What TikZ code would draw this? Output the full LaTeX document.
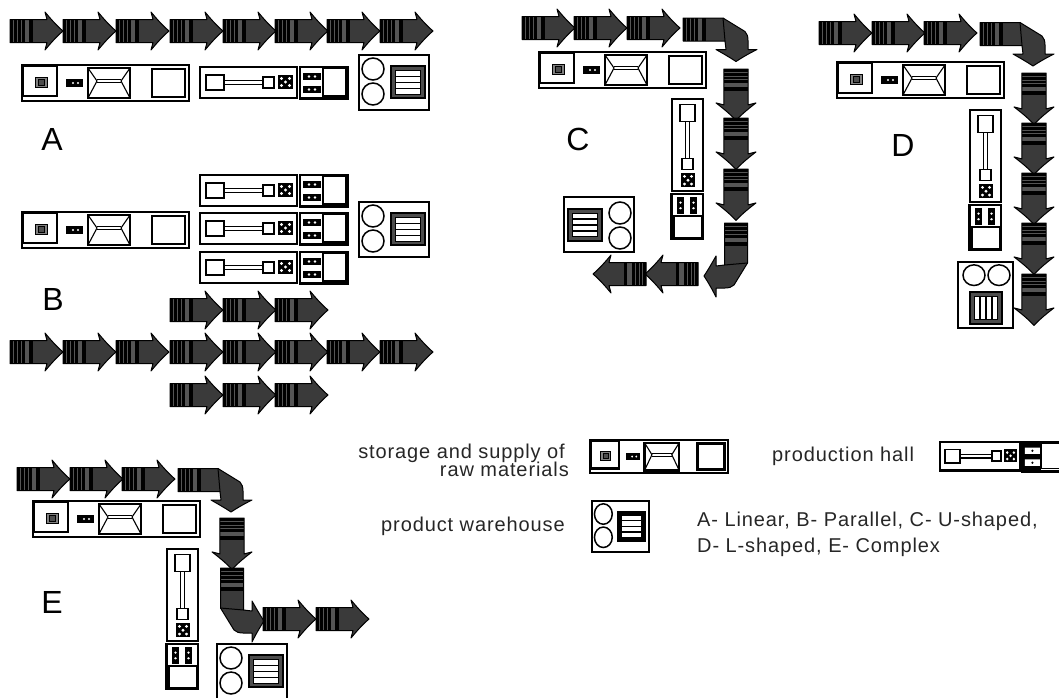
\documentclass[tikz,border=0pt]{standalone}
\usepackage{fontspec}
\setmainfont{Liberation Sans}
\newfontfamily\legendfont[LetterSpace=4.5]{Liberation Sans}
\definecolor{flowgrey}{HTML}{3A3A3A}
\definecolor{bandgrey}{HTML}{555555}
\newcommand{\flowstripes}{%
  \fill[black] (0,-11.5) rectangle (14.5,11.5);
  \fill[bandgrey] (14.5,-11.5) rectangle (19,11.5);
  \fill[black] (19,-11.5) rectangle (22.5,11.5);
  \foreach \sx in {3.5,7,11} \draw[bandgrey,line width=.4pt] (\sx,-11.5) -- (\sx,11.5);
}
\tikzset{
  flowline/.style={draw=black,line width=1pt,line join=round},
  frame/.style={draw=black,line width=1.5pt,fill=white},
  thinframe/.style={draw=black,line width=1.1pt,fill=white},
  rackbox/.style={draw=black,line width=1.2pt,fill=black!70},
  biglabel/.style={font=\fontsize{32}{36}\selectfont,anchor=base,inner sep=0pt},
  legendleft/.style={font=\legendfont\fontsize{20}{22}\selectfont,anchor=base east,inner sep=0pt,text=black!85},
  legendright/.style={font=\legendfont\fontsize{20}{22}\selectfont,anchor=base west,inner sep=0pt,text=black!85},
  flowarrow/.pic={
    \fill[flowgrey] (0,-11.5) -- (37,-11.5) -- (35,-19) .. controls (40,-13) and (46,-6) .. (53,0)
      .. controls (46,6) and (40,13) .. (35,19) -- (37,11.5) -- (0,11.5) -- cycle;
    \flowstripes
    \path[flowline] (0,-11.5) -- (37,-11.5) -- (35,-19) .. controls (40,-13) and (46,-6) .. (53,0)
      .. controls (46,6) and (40,13) .. (35,19) -- (37,11.5) -- (0,11.5) -- cycle;
  },
  bentarrow/.pic={
    \fill[flowgrey] (0,-11.5) -- (40,-11.5) -- (62,2) .. controls (64,4) and (65,7) .. (65,11) -- (65,20) -- (74,20)
      .. controls (66,24) and (59,28) .. (53,32) .. controls (47,28) and (40,24) .. (33,20) -- (43,20) -- (42,11.5) -- (0,11.5) -- cycle;
    \flowstripes
    \path[flowline] (0,-11.5) -- (40,-11.5) -- (62,2) .. controls (64,4) and (65,7) .. (65,11) -- (65,20) -- (74,20)
      .. controls (66,24) and (59,28) .. (53,32) .. controls (47,28) and (40,24) .. (33,20) -- (43,20) -- (42,11.5) -- (0,11.5) -- cycle;
    \draw[flowline] (40,-11.5) -- (42,11.5);
  },
  storage/.pic={
    \path[frame] (0,0) rectangle (167,36);
    \path[frame] (1,1) rectangle (35,31);
    \path[draw=black,line width=.9pt,fill=gray] (13,12) rectangle (25,22);
    \path[draw=black,line width=.6pt,fill=black!70] (16,14.5) rectangle (22,20);
    \fill[black] (44,14) rectangle (61,22);
    \fill[white] (51,18) circle (1.2) (56,18) circle (1.2);
    \path[frame] (66,3) rectangle (108,33);
    \draw[black,line width=1.1pt] (66,3) -- (75,16) -- (66,33) (108,3) -- (99,16) -- (108,33);
    \draw[black,line width=.9pt] (75,14.5) -- (99,14.5) (75,17.5) -- (99,17.5);
    \path[frame] (130,4) rectangle (163,32);
  },
  hallbody/.pic={
    \path[frame] (0,0) rectangle (97,31);
    \path[thinframe] (6,8) rectangle (24,23);
    \path[thinframe] (24,13.5) rectangle (63,17.5);
    \path[thinframe] (63,10) rectangle (74,21);
    \fill[black] (78,8) rectangle (93,22);
    \fill[white] (81.5,11.5) circle (1.6) (89.5,11.5) circle (1.6) (85.5,15) circle (1.6)
      (81.5,18.5) circle (1.6) (89.5,18.5) circle (1.6);
    \path[frame] (100,0) rectangle (148,32);
    \path[draw=black,line width=1.6pt,fill=white] (123,1) rectangle (146,29);
    \draw[black,line width=1.8pt] (100,31) -- (147,31) -- (147,1);
    \foreach \ry in {6,19} {
      \fill[black] (103,\ry) rectangle (121,\ry+7);
      \fill[white] (109,\ry+3.5) circle (1.3) (115,\ry+3.5) circle (1.3);
    }
  },
  warehouse/.pic={
    \path[frame] (0,0) rectangle (70,55);
    \draw[black,line width=1.5pt] (14,14) circle (11) (14,39) circle (11);
    \path[rackbox] (32,11) rectangle (66,43);
    \fill[black] (36,15) rectangle (62,39.5);
    \foreach \ry in {16,22,28,34} \fill[white] (37,\ry) rectangle (61,\ry+4.5);
  }
}
\begin{document}
\begin{tikzpicture}[x=1pt,y=-1pt]
\useasboundingbox (0,0) rectangle (1059,697);
% --- A
\foreach \ax [count=\ai] in {10,63,116,170,223,275,327,380}
  \pic (aarrow\ai) at (\ax,31) {flowarrow};
\pic (astore) at (22,65) {storage};
\pic (ahall) at (200,67) {hallbody};
\pic (aware) at (359,55) {warehouse};
\node[biglabel] (la) at (52,150) {A};
% --- B
\pic (bstore) at (22,212) {storage};
\pic (bhalla) at (200,175) {hallbody};
\pic (bhallb) at (200,213) {hallbody};
\pic (bhallc) at (200,252) {hallbody};
\pic (bware) at (359,202) {warehouse};
\node[biglabel] (lb) at (53,310) {B};
\foreach \ax [count=\ai] in {170,223,275} {
  \pic (btop\ai) at (\ax,310) {flowarrow};
  \pic (bbot\ai) at (\ax,395) {flowarrow};
}
\foreach \ax [count=\ai] in {10,63,116,170,223,275,327,380}
  \pic (bmid\ai) at (\ax,352) {flowarrow};
% --- C
\foreach \ax [count=\ai] in {522,574,627}
  \pic (carrow\ai) at (\ax,28) {flowarrow};
\pic (cbend) at (683,29.5) {bentarrow};
\foreach \ay [count=\ai] in {69,118,169}
  \pic[rotate=-90,xscale=.97,yscale=1.05] (cdown\ai) at (736,\ay) {flowarrow};
\pic[rotate=-90] (cbendb) at (736,223) {bentarrow};
\pic[rotate=180] (cwesta) at (698,274) {flowarrow};
\pic[rotate=180] (cwestb) at (646,274) {flowarrow};
\pic (cstore) at (539,52) {storage};
\pic[rotate=-90,xscale=.95] (chall) at (703,99) {hallbody};
\pic[rotate=180] (cware) at (634,252) {warehouse};
\node[biglabel] (lc) at (578,150) {C};
% --- D
\foreach \ax [count=\ai] in {819,872,924}
  \pic (darrow\ai) at (\ax,33) {flowarrow};
\pic (dbend) at (980,34) {bentarrow};
\foreach \ay [count=\ai] in {73,123,173,223,274}
  \pic[rotate=-90,xscale=.97,yscale=1.05] (ddown\ai) at (1034,\ay) {flowarrow};
\pic (dstore) at (837,62) {storage};
\pic[rotate=-90,xscale=.95] (dhall) at (1001,110) {hallbody};
\pic[rotate=-90,xscale=.94] (dware) at (1013,262) {warehouse};
\node[biglabel] (ld) at (903,156) {D};
% --- E
\foreach \ax [count=\ai] in {17,70,122}
  \pic (earrow\ai) at (\ax,479) {flowarrow};
\pic (ebend) at (178,480) {bentarrow};
\pic[rotate=-90,xscale=.97,yscale=1.05] (edown) at (232,518) {flowarrow};
\pic[rotate=-90,yscale=-1] (ebendb) at (232,568) {bentarrow};
\pic (eeasta) at (263,619) {flowarrow};
\pic (eeastb) at (316,619) {flowarrow};
\pic (estore) at (33,501) {storage};
\pic[rotate=-90,xscale=.95] (ehall) at (198,549) {hallbody};
\pic (eware) at (217,644) {warehouse};
\node[biglabel] (le) at (52,613) {E};
% --- legend
\tikzset{frame/.style={draw=black,line width=2.4pt,fill=white},
         thinframe/.style={draw=black,line width=1.7pt,fill=white},
         rackbox/.style={draw=black,line width=1.2pt,fill=black}}
\pic[xscale=.826,yscale=.92] (lstore) at (590,440) {storage};
\pic[xscale=.825,yscale=.92] (lhall) at (940,442) {hallbody};
\begin{scope}[shift={(940,442)},xscale=.825,yscale=.92]
  \fill[black] (99,0) rectangle (123,32);
  \fill[white] (103,6) rectangle (121,13) (103,19) rectangle (121,26);
  \fill[black] (112,9.5) circle (1.4) (112,22.5) circle (1.4);
\end{scope}
\pic[xscale=.81,yscale=.93] (lware) at (592,501) {warehouse};
\node[legendleft] (t1) at (565,458) {storage and supply of};
\node[legendleft] (t2) at (569,476) {raw materials};
\node[legendleft] (t3) at (565,531) {product warehouse};
\node[legendright] (t4) at (772,461) {production hall};
\node[legendright] (t5) at (697,526) {A- Linear, B- Parallel, C- U-shaped,};
\node[legendright] (t6) at (697,552) {D- L-shaped, E- Complex};
\end{tikzpicture}
\end{document}
